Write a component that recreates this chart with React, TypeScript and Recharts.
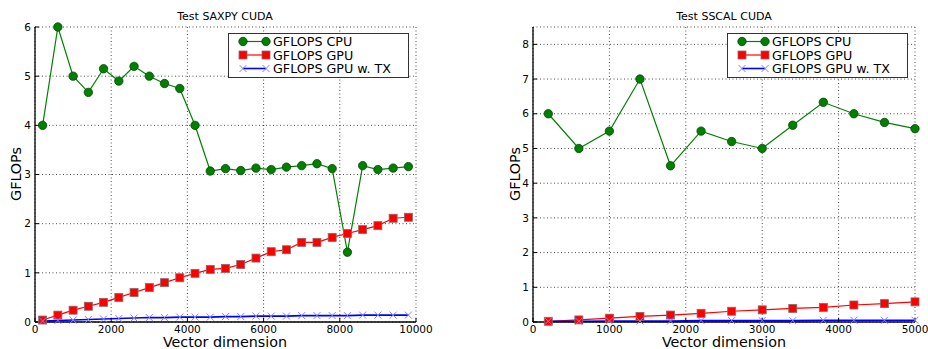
import React from "react"
import { LineChart, Line, XAxis, YAxis, CartesianGrid, Legend } from "recharts"

// SAXPY test (left panel)
const SAXPY_N = [200, 600, 1000, 1400, 1800, 2200, 2600, 3000, 3400, 3800, 4200, 4600, 5000, 5400, 5800, 6200, 6600, 7000, 7400, 7800, 8200, 8600, 9000, 9400, 9800]
const SAXPY_CPU = [4.0, 6.0, 5.0, 4.67, 5.15, 4.9, 5.2, 5.0, 4.85, 4.75, 4.0, 3.07, 3.12, 3.08, 3.13, 3.1, 3.15, 3.18, 3.22, 3.12, 1.42, 3.18, 3.1, 3.13, 3.16]
const SAXPY_GPU = [0.04, 0.14, 0.24, 0.32, 0.4, 0.5, 0.6, 0.7, 0.8, 0.9, 0.99, 1.07, 1.09, 1.17, 1.3, 1.43, 1.47, 1.62, 1.62, 1.72, 1.8, 1.88, 1.96, 2.11, 2.13]
const SAXPY_GPU_TX = [0.02, 0.03, 0.04, 0.05, 0.06, 0.07, 0.08, 0.09, 0.09, 0.1, 0.1, 0.1, 0.11, 0.11, 0.12, 0.12, 0.12, 0.13, 0.13, 0.13, 0.13, 0.14, 0.14, 0.14, 0.14]
const SAXPY_X_TICKS = [0, 2000, 4000, 6000, 8000, 10000]
const SAXPY_Y_TICKS = [0, 1, 2, 3, 4, 5, 6]

// SSCAL test (right panel)
const SSCAL_N = [200, 600, 1000, 1400, 1800, 2200, 2600, 3000, 3400, 3800, 4200, 4600, 5000]
const SSCAL_CPU = [6.0, 5.0, 5.5, 7.0, 4.5, 5.5, 5.2, 5.0, 5.67, 6.33, 6.0, 5.75, 5.57]
const SSCAL_GPU = [0.02, 0.06, 0.11, 0.16, 0.2, 0.25, 0.31, 0.35, 0.39, 0.42, 0.49, 0.53, 0.58]
const SSCAL_GPU_TX = [0.02, 0.02, 0.03, 0.03, 0.03, 0.04, 0.04, 0.04, 0.04, 0.05, 0.05, 0.05, 0.05]
const SSCAL_X_TICKS = [0, 1000, 2000, 3000, 4000, 5000]
const SSCAL_Y_TICKS = [0, 1, 2, 3, 4, 5, 6, 7, 8]

const FONT = "'DejaVu Sans', sans-serif"
const GREEN = "#008000"
const RED = "#ff0000"
const BLUE = "#0000ff"

function toRows(n: number[], cpu: number[], gpu: number[], tx: number[]) {
  return n.map((x, i) => ({ n: x, cpu: cpu[i], gpu: gpu[i], tx: tx[i] }))
}

const saxpyRows = toRows(SAXPY_N, SAXPY_CPU, SAXPY_GPU, SAXPY_GPU_TX)
const sscalRows = toRows(SSCAL_N, SSCAL_CPU, SSCAL_GPU, SSCAL_GPU_TX)

function marker(kind: string, x: number, y: number, key?: any) {
  if (kind === "cpu")
    return <circle key={key} cx={x} cy={y} r={4.2} fill={GREEN} stroke="#004a00" strokeWidth={0.8} />
  if (kind === "gpu")
    return <rect key={key} x={x - 4} y={y - 4} width={8} height={8} fill={RED} stroke="#8a6a6a" strokeWidth={0.8} />
  return (
    <path key={key} d={`M${x - 3.5},${y - 3.5}L${x + 3.5},${y + 3.5}M${x - 3.5},${y + 3.5}L${x + 3.5},${y - 3.5}`} stroke="#8080ff" strokeWidth={1} fill="none" />
  )
}

const dotFor = (kind: string) => (props: any) => {
  const { cx, cy, index } = props
  if (cx == null || cy == null) return <g key={index} />
  return marker(kind, cx, cy, index)
}

function LegendBox({ payload }: any) {
  const colors: Record<string, string> = { cpu: GREEN, gpu: RED, tx: BLUE }
  return (
    <svg width={181} height={45} style={{ display: "block" }}>
      <rect x={0.5} y={0.5} width={180} height={44} fill="#fff" stroke="#333" strokeWidth={1} />
      {(payload || []).map((p: any, i: number) => {
        const y = 8.5 + i * 13.5
        const k = p.dataKey as string
        return (
          <g key={k}>
            <line x1={15} x2={38} y1={y} y2={y} stroke={colors[k]} strokeWidth={k === "tx" ? 1.6 : 1.2} />
            {marker(k, 15, y)}
            {marker(k, 38, y)}
            <text x={45} y={y + 4.5} fontFamily={FONT} fontSize={12.7} fill="#000">{p.value}</text>
          </g>
        )
      })}
    </svg>
  )
}

function Panel({ rows, xMax, xTicks, yMax, yTicks, margin, width, legendLeft }: any) {
  const tick = { fontFamily: FONT, fontSize: 10.5, fill: "#000" }
  return (
    <LineChart width={width} height={349} data={rows} margin={margin}>
      <CartesianGrid stroke="#000" strokeWidth={0.7} strokeDasharray="1 2.5" />
      <XAxis dataKey="n" type="number" domain={[0, xMax]} ticks={xTicks} interval={0} height={20}
        tick={tick} tickSize={-4} tickMargin={8} axisLine={{ stroke: "#000", strokeWidth: 1.3 }} tickLine={{ stroke: "#000" }} />
      <YAxis type="number" domain={[0, yMax]} ticks={yTicks} interval={0} width={30}
        tick={tick} tickSize={-4} tickMargin={8} axisLine={{ stroke: "#000", strokeWidth: 1.3 }} tickLine={{ stroke: "#000" }} />
      <XAxis xAxisId="top" orientation="top" type="number" domain={[0, xMax]} height={0} tick={false}
        axisLine={{ stroke: "#000", strokeWidth: 1.3 }} />
      <YAxis yAxisId="right" orientation="right" type="number" domain={[0, yMax]} width={0} tick={false}
        axisLine={{ stroke: "#000", strokeWidth: 1.3 }} />
      <Legend layout="vertical" align="center" verticalAlign="middle" content={<LegendBox />}
        wrapperStyle={{ top: 33, left: legendLeft, width: 181, height: 45 }} />
      <Line type="linear" dataKey="cpu" name="GFLOPS CPU" stroke={GREEN} strokeWidth={1.2} dot={dotFor("cpu")} isAnimationActive={false} />
      <Line type="linear" dataKey="gpu" name="GFLOPS GPU" stroke={RED} strokeWidth={1.2} dot={dotFor("gpu")} isAnimationActive={false} />
      <Line type="linear" dataKey="tx" name="GFLOPS GPU w. TX" stroke={BLUE} strokeWidth={1.6} dot={dotFor("tx")} isAnimationActive={false} />
    </LineChart>
  )
}

export default function App() {
  const label = { fontFamily: FONT, fill: "#000" }
  return (
    <div style={{ position: "absolute", left: 0, top: 0, width: 928, height: 349, background: "#fff" }}>
      <div style={{ position: "absolute", left: 0, top: 0 }}>
        <Panel rows={saxpyRows} xMax={10000} xTicks={SAXPY_X_TICKS} yMax={6} yTicks={SAXPY_Y_TICKS}
          width={460} margin={{ top: 27, right: 44, bottom: 7, left: 5 }} legendLeft={228} />
      </div>
      <div style={{ position: "absolute", left: 460, top: 0 }}>
        <Panel rows={sscalRows} xMax={5000} xTicks={SSCAL_X_TICKS} yMax={8.5} yTicks={SSCAL_Y_TICKS}
          width={468} margin={{ top: 27, right: 13, bottom: 7, left: 43 }} legendLeft={267} />
      </div>
      <svg width={928} height={349} style={{ position: "absolute", left: 0, top: 0, pointerEvents: "none" }}>
        <text x={225} y={20} textAnchor="middle" fontSize={11} {...label}>Test SAXPY CUDA</text>
        <text x={724} y={20} textAnchor="middle" fontSize={11} {...label}>Test SSCAL CUDA</text>
        <text x={225} y={347} textAnchor="middle" fontSize={14.3} {...label}>Vector dimension</text>
        <text x={724} y={347} textAnchor="middle" fontSize={14.3} {...label}>Vector dimension</text>
        <text x={21} y={174} textAnchor="middle" fontSize={14.3} transform="rotate(-90 21 174)" {...label}>GFLOPs</text>
        <text x={520} y={174} textAnchor="middle" fontSize={14.3} transform="rotate(-90 520 174)" {...label}>GFLOPs</text>
      </svg>
    </div>
  )
}
